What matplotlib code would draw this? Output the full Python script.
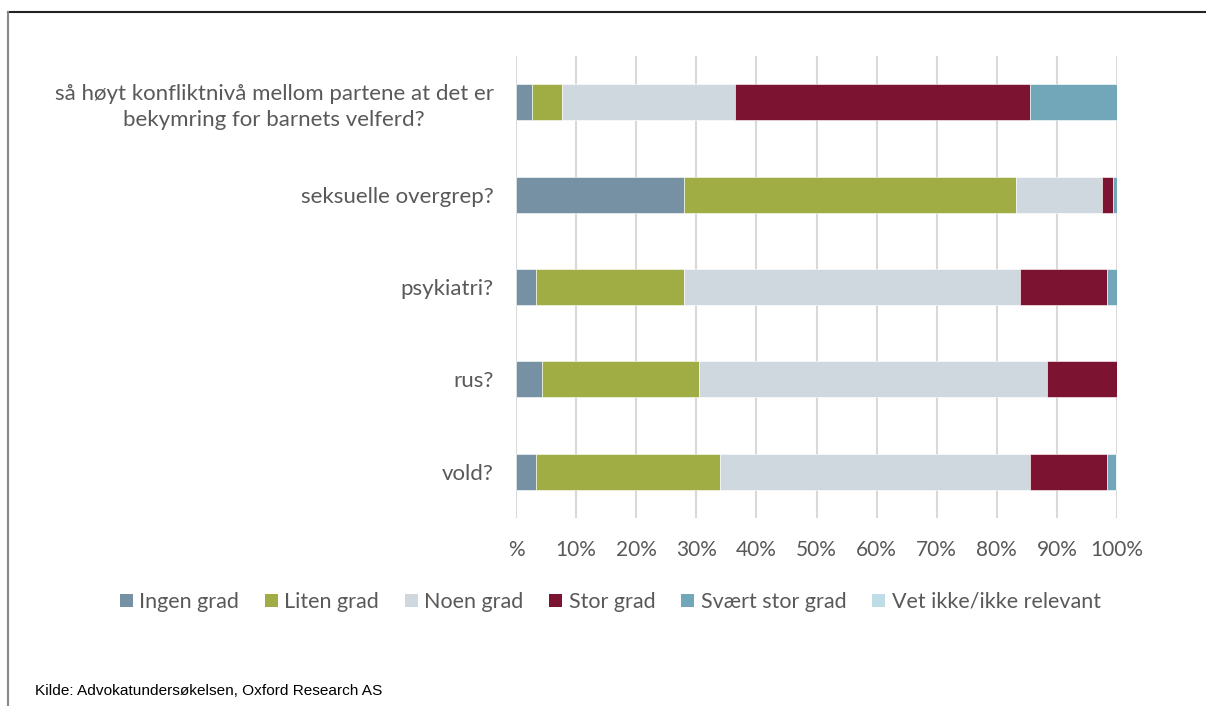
import matplotlib
matplotlib.use("Agg")
import matplotlib.pyplot as plt
from matplotlib.lines import Line2D
from matplotlib.patches import Patch
import numpy as np

plt.rcParams['font.family'] = ['Lato', 'DejaVu Sans']

# categories, top to bottom
categories = ["så høyt konfliktnivå mellom partene at det er\nbekymring for barnets velferd?",
              "seksuelle overgrep?",
              "psykiatri?",
              "rus?",
              "vold?"]

series_names = ["Ingen grad", "Liten grad", "Noen grad", "Stor grad",
                "Svært stor grad", "Vet ikke/ikke relevant"]

# share in percent
ingen = [2.6, 28.0, 3.4, 4.3, 3.4]
liten = [5.1, 55.2, 24.5, 26.2, 30.5]
noen = [28.7, 14.3, 56.0, 57.8, 51.7]
stor = [49.2, 1.8, 14.5, 11.7, 12.7]
svaert = [14.4, 0.8, 1.6, 0.0, 1.6]
vet_ikke = [0.0, 0.0, 0.0, 0.0, 0.0]

xticks = [0, 10, 20, 30, 40, 50, 60, 70, 80, 90, 100]
xticklabels = ["%", "10%", "20%", "30%", "40%", "50%", "60%", "70%", "80%", "90%", "100%"]

colors = ["#7591A3", "#A0AD45", "#D0D8DF", "#7C1331", "#71A7B9", "#BFDDE6"]
txt = "#595959"

fig = plt.figure(figsize=(12.06, 7.06), dpi=100)
ax = fig.add_axes([516/1206, 1 - 518/706, (1117 - 516)/1206, (518 - 56)/706])

y = np.arange(len(categories))
left = np.zeros(len(categories))
for name, vals, c in zip(series_names, [ingen, liten, noen, stor, svaert, vet_ikke], colors):
    vals = np.array(vals)
    ax.barh(y, vals, left=left, height=0.39, color=c, edgecolor='white',
            linewidth=0.4, label=name, zorder=3)
    left += vals

ax.set_xlim(0, 100)
ax.set_ylim(len(categories) - 0.5, -0.5)
ax.set_xticks(xticks)
ax.set_xticklabels(xticklabels, fontsize=15, color=txt)
ax.set_yticks(y)
ax.set_yticklabels(categories, fontsize=16, color=txt, multialignment='center',
                   linespacing=1.35)
ax.tick_params(axis='both', length=0)
ax.tick_params(axis='x', pad=16)
ax.tick_params(axis='y', pad=16)
ax.grid(axis='x', color='#D9D9D9', linewidth=1.5, zorder=0)
for s in ax.spines.values():
    s.set_visible(False)

handles = [Patch(facecolor=c, edgecolor='none') for c in colors]
fig.legend(handles, series_names, loc='center', bbox_to_anchor=(0.506, 1 - 602/706),
           ncol=6, frameon=False, fontsize=15.5, handlelength=0.6, handleheight=0.6,
           handletextpad=0.3, columnspacing=1.2, labelcolor=txt)

fig.text(35/1206, 1 - 691/706, "Kilde: Advokatundersøkelsen, Oxford Research AS",
         fontsize=11.1, color='black', va='center', ha='left',
         family=['Liberation Sans Narrow', 'Liberation Sans', 'DejaVu Sans'])

# frame around chart
fig.add_artist(Line2D([8/1206, 1], [1 - 12/706, 1 - 12/706], transform=fig.transFigure,
                      color='#222222', linewidth=1.5))
fig.add_artist(Line2D([8/1206, 8/1206], [0, 1 - 12/706], transform=fig.transFigure,
                      color='#888888', linewidth=1.5))

fig.savefig("out.png", dpi=100)
